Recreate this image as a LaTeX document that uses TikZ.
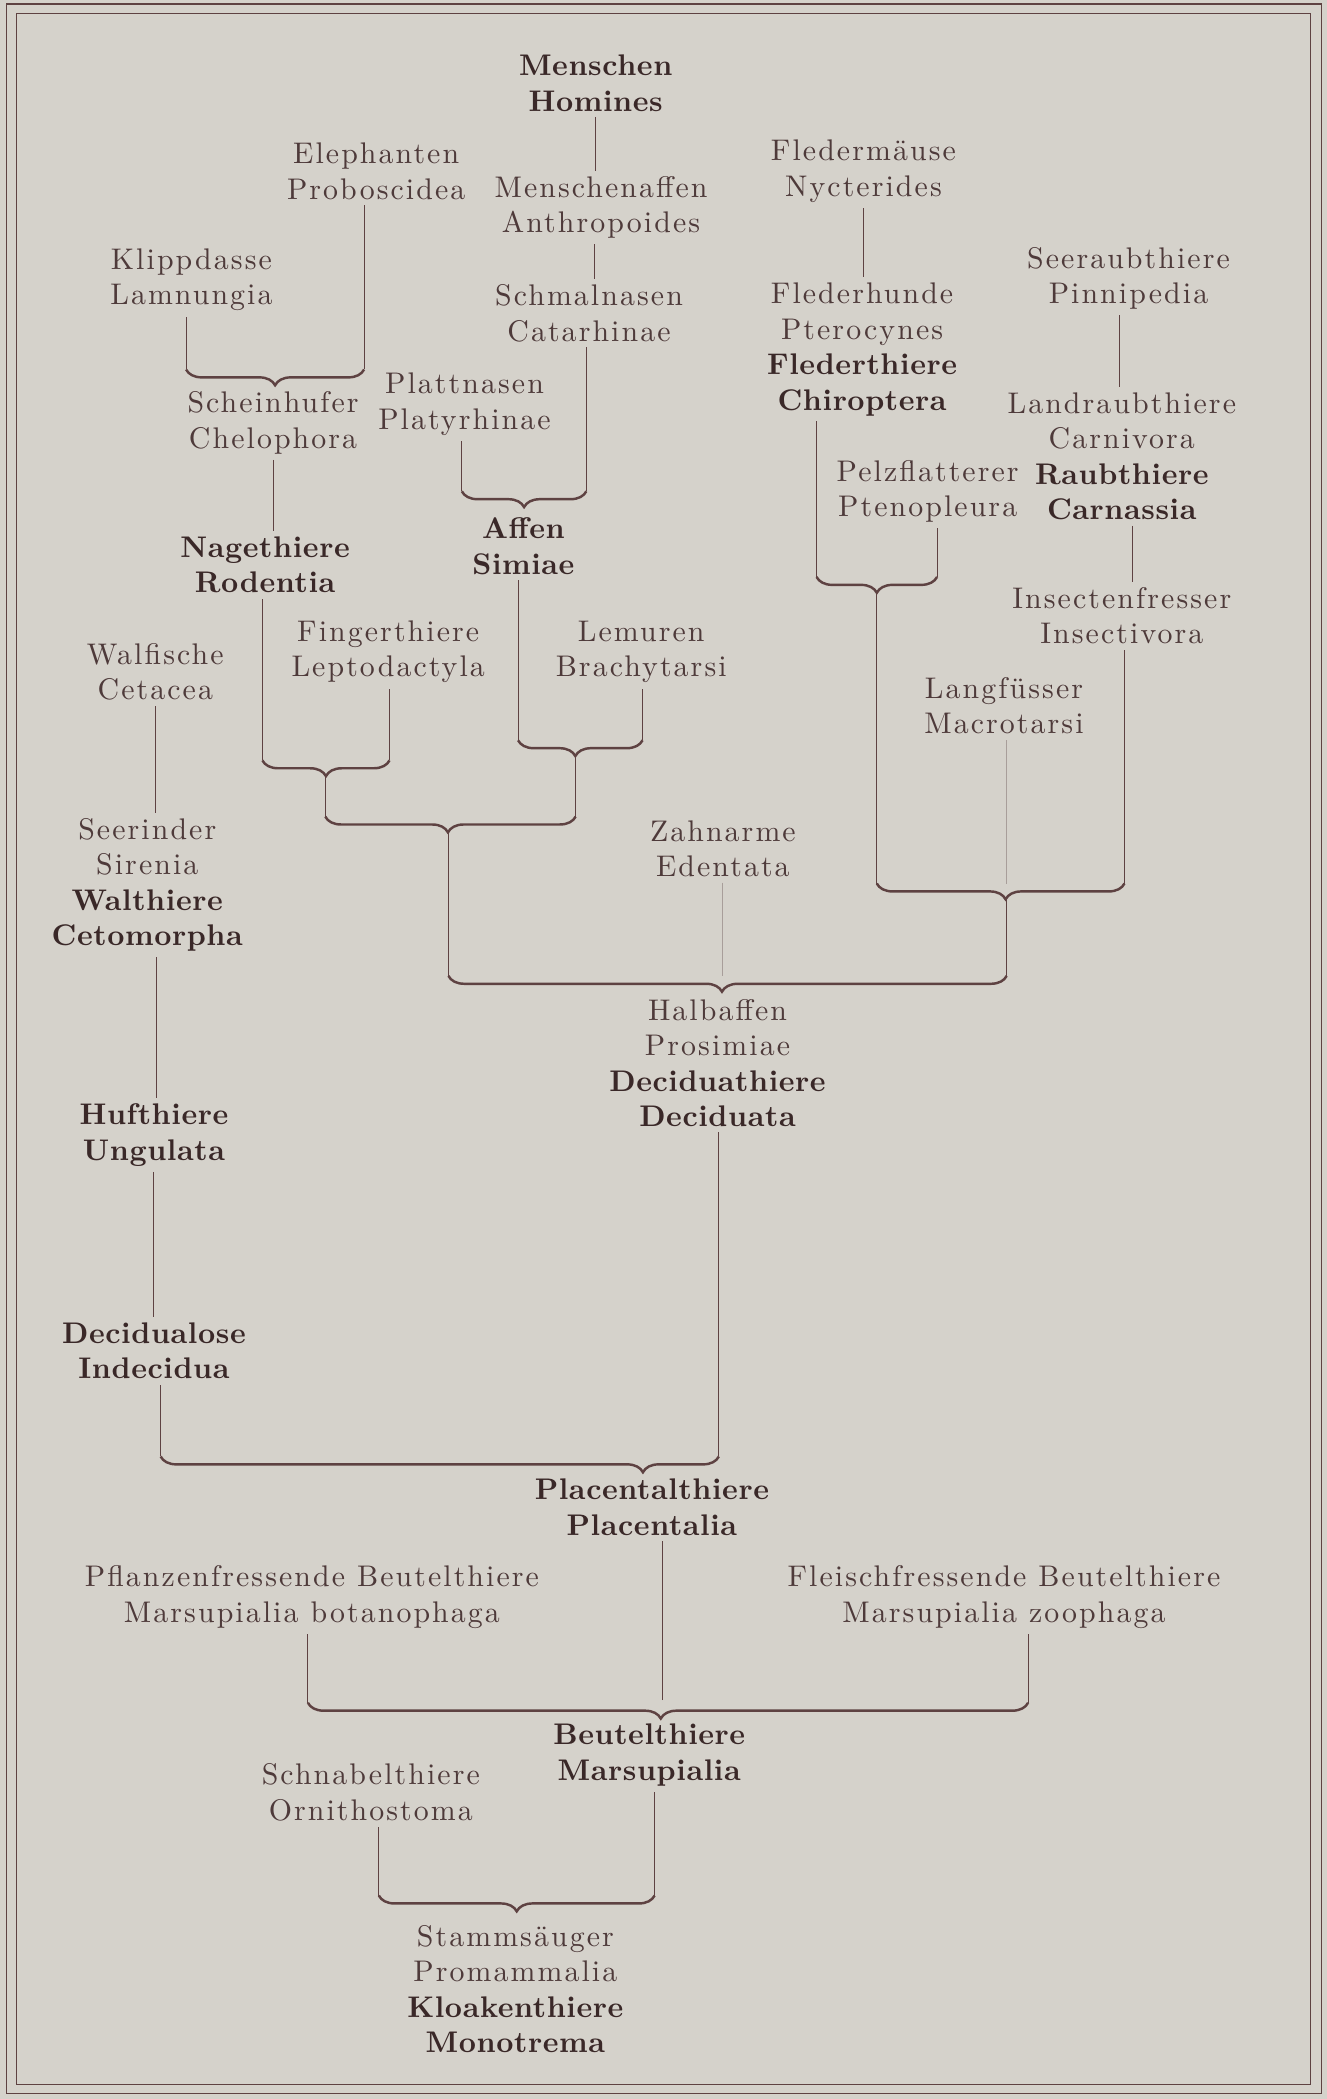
\documentclass[tikz,border=0pt]{standalone}
\usepackage{fontspec}
\setmainfont{lmroman10-regular.otf}[BoldFont=lmroman10-bold.otf,
  ItalicFont=lmroman10-italic.otf]
\usepackage{tikz}
\usetikzlibrary{decorations.pathreplacing}
\definecolor{paperclr}{HTML}{D5D2CB}
\definecolor{inkclr}{HTML}{4E3A3A}
\definecolor{boldclr}{HTML}{3A2828}
\definecolor{stemclr}{HTML}{5E4242}
\definecolor{faintclr}{HTML}{A89E9A}
\newcommand{\grp}[1]{{\bfseries\addfontfeatures{LetterSpace=2}\color{boldclr}#1}}

\begin{document}
\begin{tikzpicture}[x=0.0268cm, y=-0.0268cm,
  taxon/.style={align=center, text=inkclr, inner sep=3pt,
    font=\fontsize{17}{20.2}\selectfont\addfontfeatures{LetterSpace=7}},
  stem/.style={stemclr, line width=0.6pt},
  faint/.style={faintclr, line width=0.6pt},
  fork/.style={stemclr, line width=1.4pt, decorate,
    decoration={brace, mirror, amplitude=9pt, aspect=#1}},
  fork/.default=0.5]

% --- paper and the double frame --------------------------------------------
\fill[paperclr] (0,0) rectangle (991,1568);
\useasboundingbox (0,0) rectangle (991,1568);
\draw[stemclr, line width=0.8pt] (5,3) rectangle (987,1564);
\draw[stemclr, line width=0.5pt] (12,10) rectangle (979,1557);

% --- Scheinhufer and Nagethiere --------------------------------------------
\node[taxon] (klippdasse) at (143,209) {Klippdasse\\Lamnungia};
\node[taxon] (elephanten) at (281,128) {Elephanten\\Proboscidea};
\node[taxon] (scheinhufer) at (204,316) {Scheinhufer\\Chelophora};
\node[taxon] (nagethiere) at (198,422) {\grp{Nagethiere}\\\grp{Rodentia}};
\coordinate (a1) at (139,276);
\coordinate (a2) at (272,276);
\draw[stem] (a1) -- (a1 |- klippdasse.south);
\draw[stem] (a2) -- (a2 |- elephanten.south);
\draw[fork] (a1) -- (a2);
\draw[stem] (scheinhufer.south) -- (scheinhufer.south |- nagethiere.north);

% --- Affen ------------------------------------------------------------------
\node[taxon] (menschen) at (445,62) {\grp{Menschen}\\\grp{Homines}};
\node[taxon] (menschenaffen) at (449,155) {Menschenaffen\\Anthropoides};
\node[taxon] (schmalnasen) at (440,234) {Schmalnasen\\Catarhinae};
\node[taxon] (plattnasen) at (347,302) {Plattnasen\\Platyrhinae};
\node[taxon] (affen) at (391,408) {\grp{Affen}\\\grp{Simiae}};
\draw[stem] (menschen.south) -- (menschen.south |- menschenaffen.north);
\draw[stem] ([xshift=-4pt]menschenaffen.south) -- ([xshift=-4pt]menschenaffen.south |- schmalnasen.north);
\coordinate (c1) at (345,367);
\coordinate (c2) at (438,367);
\draw[stem] (c1) -- (c1 |- plattnasen.south);
\draw[stem] (c2) -- (c2 |- schmalnasen.south);
\draw[fork] (c1) -- (c2);

% --- Flederthiere -----------------------------------------------------------
\node[taxon] (fledermaeuse) at (645,128) {Flederm\"ause\\Nycterides};
\node[taxon] (flederhunde) at (644,261)
  {Flederhunde\\Pterocynes\\\grp{Flederthiere}\\\grp{Chiroptera}};
\node[taxon] (pelzflatterer) at (693,367) {Pelzflatterer\\Ptenopleura};
\draw[stem] (fledermaeuse.south) -- (fledermaeuse.south |- flederhunde.north);
\coordinate (d1) at (610,431);
\coordinate (d2) at (700,431);
\coordinate (dtip) at (655,443);
\draw[stem] (d1) -- (d1 |- flederhunde.south);
\draw[stem] (d2) -- (d2 |- pelzflatterer.south);
\draw[fork] (d1) -- (d2);

% --- Raubthiere and Insectenfresser ----------------------------------------
\node[taxon] (seeraubthiere) at (843,208) {Seeraubthiere\\Pinnipedia};
\node[taxon] (landraubthiere) at (838,341)
  {Landraubthiere\\Carnivora\\\grp{Raubthiere}\\\grp{Carnassia}};
\node[taxon] (insectenfresser) at (838,460) {Insectenfresser\\Insectivora};
\node[taxon] (langfuesser) at (750,527) {Langf\"usser\\Macrotarsi};
\draw[stem] ([xshift=-5pt]seeraubthiere.south) -- ([xshift=-5pt]seeraubthiere.south |- landraubthiere.north);
\draw[stem] ([xshift=6pt]landraubthiere.south) -- ([xshift=6pt]landraubthiere.south |- insectenfresser.north);
\coordinate (e1) at (655,660);
\coordinate (e2) at (752,660);
\coordinate (e3) at (840,660);
\coordinate (etip) at (752,672);
\draw[stem] (dtip) -- (e1);
\draw[faint] (e2) -- (e2 |- langfuesser.south);
\draw[stem] (e3) -- (e3 |- insectenfresser.south);
\draw[fork=0.52] (e1) -- (e3);

% --- Fingerthiere and Lemuren ----------------------------------------------
\node[taxon] (fingerthiere) at (290,487) {Fingerthiere\\Leptodactyla};
\node[taxon] (lemuren) at (479,487) {Lemuren\\Brachytarsi};
\coordinate (f1) at (196,568);
\coordinate (f2) at (291,568);
\coordinate (ftip) at (243,580);
\draw[stem] (f1) -- (f1 |- nagethiere.south);
\draw[stem] (f2) -- (f2 |- fingerthiere.south);
\draw[fork] (f1) -- (f2);
\coordinate (g1) at (387,553);
\coordinate (g2) at (480,553);
\coordinate (gtip) at (430,565);
\draw[stem] (g1) -- (g1 |- affen.south);
\draw[stem] (g2) -- (g2 |- lemuren.south);
\draw[fork=0.46] (g1) -- (g2);
\coordinate (h1) at (243,610);
\coordinate (h2) at (430,610);
\coordinate (htip) at (335,622);
\draw[stem] (ftip) -- (h1);
\draw[stem] (gtip) -- (h2);
\draw[fork=0.49] (h1) -- (h2);

% --- Halbaffen: the big fork -----------------------------------------------
\node[taxon] (zahnarme) at (540,634) {Zahnarme\\Edentata};
\node[taxon] (halbaffen) at (536,794)
  {Halbaffen\\Prosimiae\\\grp{Deciduathiere}\\\grp{Deciduata}};
\coordinate (i1) at (335,729);
\coordinate (i2) at (752,729);
\coordinate (zend) at (540,729);
\draw[stem] (htip) -- (i1);
\draw[stem] (etip) -- (i2);
\draw[faint] (zahnarme.south) -- (zend);
\draw[fork=0.49] (i1) -- (i2);

% --- Cetomorpha and Ungulata -----------------------------------------------
\node[taxon] (walfische) at (116,502) {Walfische\\Cetacea};
\node[taxon] (seerinder) at (110,661)
  {Seerinder\\Sirenia\\\grp{Walthiere}\\\grp{Cetomorpha}};
\node[taxon] (hufthiere) at (115,848) {\grp{Hufthiere}\\\grp{Ungulata}};
\node[taxon] (decidualose) at (115,1009) {\grp{Decidualose}\\\grp{Indecidua}};
\draw[stem] (walfische.south) -- (walfische.south |- seerinder.north);
\draw[stem] ([xshift=5pt]seerinder.south) -- ([xshift=5pt]seerinder.south |- hufthiere.north);
\draw[stem] (hufthiere.south) -- (hufthiere.south |- decidualose.north);

% --- Placentalthiere --------------------------------------------------------
\node[taxon] (placentalthiere) at (487,1126) {\grp{Placentalthiere}\\\grp{Placentalia}};
\coordinate (j1) at (120,1088);
\coordinate (j2) at (537,1088);
\draw[stem] (j1) -- (j1 |- decidualose.south);
\draw[stem] (j2) -- (j2 |- halbaffen.south);
\draw[fork=0.864] (j1) -- (j2);

% --- Beutelthiere -----------------------------------------------------------
\node[taxon] (pflanzenfresser) at (233,1193)
  {Pflanzenfressende Beutelthiere\\Marsupialia botanophaga};
\node[taxon] (fleischfresser) at (750,1193)
  {Fleischfressende Beutelthiere\\Marsupialia zoophaga};
\node[taxon] (beutelthiere) at (485,1311) {\grp{Beutelthiere}\\\grp{Marsupialia}};
\coordinate (k1) at (230,1272);
\coordinate (k2) at (768,1272);
\coordinate (kmid) at (495,1270);
\draw[stem] (k1) -- (k1 |- pflanzenfresser.south);
\draw[stem] (k2) -- (k2 |- fleischfresser.south);
\draw[stem] (kmid) -- (kmid |- placentalthiere.south);
\draw[fork=0.49] (k1) -- (k2);

% --- Stammsaeuger -----------------------------------------------------------
\node[taxon] (schnabelthiere) at (277,1339) {Schnabelthiere\\Ornithostoma};
\node[taxon] (stammsaeuger) at (385,1486)
  {Stamms\"auger\\Promammalia\\\grp{Kloakenthiere}\\\grp{Monotrema}};
\coordinate (l1) at (283,1416);
\coordinate (l2) at (489,1416);
\draw[stem] (l1) -- (l1 |- schnabelthiere.south);
\draw[stem] (l2) -- (l2 |- beutelthiere.south);
\draw[fork] (l1) -- (l2);

\end{tikzpicture}
\end{document}
